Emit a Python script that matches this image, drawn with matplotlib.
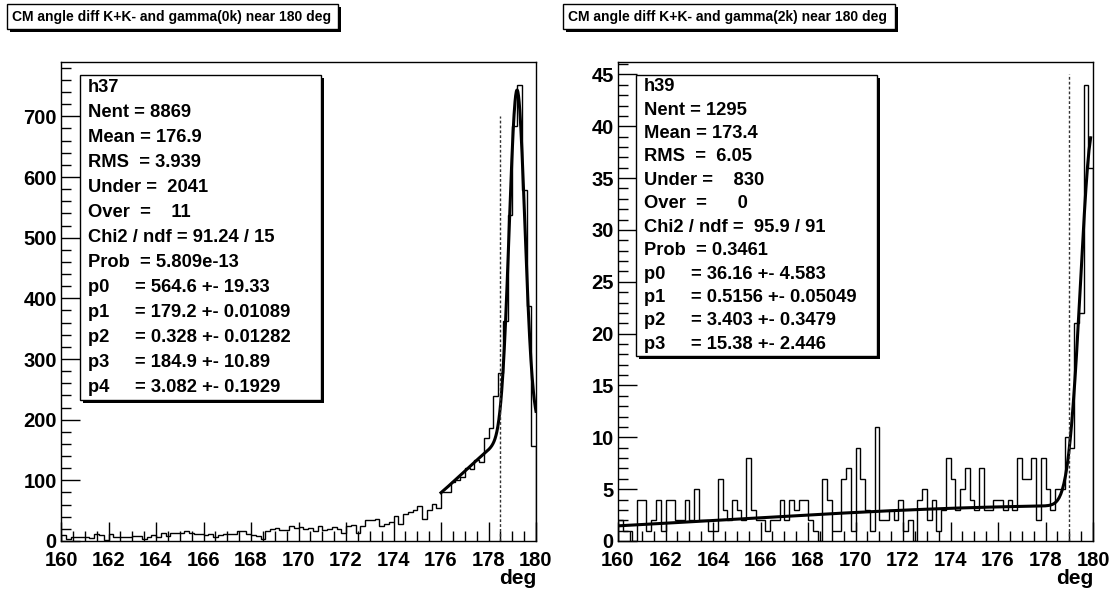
import numpy as np
import matplotlib
matplotlib.use("Agg")
import matplotlib.pyplot as plt
from matplotlib.patches import Rectangle
from matplotlib.ticker import MultipleLocator

plt.rcParams['font.family'] = ['Liberation Sans', 'DejaVu Sans']
plt.rcParams['font.weight'] = 'bold'

W, H = 1116, 592

# binning: 100 bins between 160 and 180 deg
edges = np.linspace(160, 180, 101)

# h37 : gamma(0k)
counts_0k = [10, 3, 7, 7, 6, 6, 5, 12, 10, 2,
             12, 7, 7, 6, 6, 9, 9, 3, 6, 10,
             7, 13, 9, 14, 14, 14, 16, 13, 12, 12,
             10, 12, 7, 10, 12, 12, 12, 16, 16, 12,
             10, 9, 3, 16, 19, 22, 18, 18, 24, 22,
             23, 19, 22, 17, 25, 18, 20, 23, 20, 14,
             24, 26, 14, 25, 34, 35, 36, 25, 28, 32,
             41, 28, 45, 47, 51, 58, 37, 51, 61, 54,
             81, 80, 98, 100, 105, 121, 118, 134, 131, 169,
             186, 239, 277, 362, 538, 684, 752, 579, 387, 156]

# h39 : gamma(2k)
counts_2k = [2, 1, 1, 0, 4, 4, 1, 2, 4, 1,
             4, 4, 2, 2, 4, 2, 5, 2, 2, 1,
             1, 6, 3, 2, 4, 3, 2, 8, 3, 2,
             2, 1, 2, 2, 4, 2, 4, 3, 4, 4,
             2, 1, 0, 6, 4, 1, 1, 6, 7, 1,
             9, 6, 3, 1, 11, 2, 2, 3, 2, 4,
             1, 2, 0, 4, 5, 2, 4, 1, 3, 8,
             6, 3, 5, 7, 4, 3, 7, 3, 3, 4,
             4, 3, 4, 3, 8, 6, 6, 8, 2, 8,
             5, 3, 5, 5, 10, 9, 21, 22, 44, 36]

# fit parameters shown in the stat boxes
pars_0k = [564.6, 179.2, 0.328, 184.9, 3.082]
pars_2k = [36.16, 0.5156, 3.403, 15.38]
fit_range_0k = (176.0, 180.0)
fit_range_2k = (160.1, 179.9)
cut_0k = (178.5, 700)
cut_2k = (179.0, 45)

titles = ["CM angle diff K+K- and gamma(0k) near 180 deg",
          "CM angle diff K+K- and gamma(2k) near 180 deg"]

stats_0k = ["h37", "Nent = 8869", "Mean = 176.9", "RMS  = 3.939",
            "Under =  2041", "Over  =    11", "Chi2 / ndf = 91.24 / 15",
            "Prob  = 5.809e-13", "p0     = 564.6 +- 19.33",
            "p1     = 179.2 +- 0.01089", "p2     = 0.328 +- 0.01282",
            "p3     = 184.9 +- 10.89", "p4     = 3.082 +- 0.1929"]
stats_2k = ["h39", "Nent = 1295", "Mean = 173.4", "RMS  =  6.05",
            "Under =    830", "Over  =      0", "Chi2 / ndf =  95.9 / 91",
            "Prob  = 0.3461", "p0     = 36.16 +- 4.583",
            "p1     = 0.5156 +- 0.05049", "p2     = 3.403 +- 0.3479",
            "p3     = 15.38 +- 2.446"]


def fit_0k(x, p):
    return (p[0] * np.exp(-0.5 * ((x - p[1]) / p[2]) ** 2)
            + p[3] * np.exp(-0.5 * ((x - 180.0) / p[4]) ** 2))


def fit_2k(x, p):
    return (p[0] * np.exp(-0.5 * ((x - 180.0) / p[1]) ** 2)
            + p[2] * np.exp(-0.5 * ((x - 180.0) / p[3]) ** 2))


def box(fig, x0, y0, x1, y1, shadow=3):
    # pixel coords (top-left origin) -> figure fraction
    fig.patches.append(Rectangle(((x0 + shadow) / W, 1 - (y1 + shadow) / H),
                                 (x1 - x0) / W, (y1 - y0) / H,
                                 transform=fig.transFigure, facecolor='black',
                                 edgecolor='black', lw=0, zorder=5))
    fig.patches.append(Rectangle((x0 / W, 1 - y1 / H), (x1 - x0) / W, (y1 - y0) / H,
                                 transform=fig.transFigure, facecolor='white',
                                 edgecolor='black', lw=1, zorder=6))


def stat_box(fig, lines, x0, y0, x1, y1):
    box(fig, x0, y0, x1, y1)
    step = (y1 - y0) / len(lines)
    for i, s in enumerate(lines):
        yc = y0 + (i + 0.5) * step
        fig.text((x0 + 8) / W, 1 - yc / H, s, fontsize=13.2, fontweight='bold',
                 ha='left', va='center', zorder=7)


fig = plt.figure(figsize=(W / 100, H / 100), dpi=100)

panels = [
    (61, counts_0k, fit_0k, pars_0k, fit_range_0k, cut_0k, 100, 20),
    (618, counts_2k, fit_2k, pars_2k, fit_range_2k, cut_2k, 5, 1),
]

for k, (left, counts, func, pars, frange, cut, major, minor) in enumerate(panels):
    ax = fig.add_axes([left / W, 1 - 541 / H, 475 / W, 479 / H])
    ax.stairs(counts, edges, color='black', lw=1.0)
    xf = np.linspace(frange[0], frange[1], 300)
    ax.plot(xf, func(xf, pars), color='black', lw=2.2)
    ax.plot([cut[0], cut[0]], [0, cut[1]], color='#333333', lw=1.0,
            linestyle=(0, (2.0, 1.5)))
    ax.set_xlim(160, 180)
    ax.set_ylim(0, 1.05 * max(counts))
    ax.xaxis.set_major_locator(MultipleLocator(2))
    ax.xaxis.set_minor_locator(MultipleLocator(0.5))
    ax.yaxis.set_major_locator(MultipleLocator(major))
    ax.yaxis.set_minor_locator(MultipleLocator(minor))
    ax.tick_params(which='both', direction='in', top=False, right=False,
                   labelsize=14.5, width=1)
    ax.tick_params(which='major', length=14)
    ax.tick_params(which='minor', length=7)
    ax.tick_params(axis='x', pad=7)
    ax.tick_params(axis='y', pad=3)
    for lab in ax.get_xticklabels() + ax.get_yticklabels():
        lab.set_fontweight('bold')
    for sp in ax.spines.values():
        sp.set_linewidth(1.0)
    fig.text((left + 475) / W, 1 - 579 / H, "deg", fontsize=15,
             fontweight='bold', ha='right', va='center')

# title boxes
box(fig, 7, 4, 338, 29)
fig.text(12 / W, 1 - 17 / H, titles[0], fontsize=10, fontweight='bold',
         ha='left', va='center', zorder=7)
box(fig, 563, 4, 895, 29)
fig.text(568 / W, 1 - 17 / H, titles[1], fontsize=10, fontweight='bold',
         ha='left', va='center', zorder=7)

# stat boxes
stat_box(fig, stats_0k, 80, 75, 321, 400)
stat_box(fig, stats_2k, 636, 75, 877, 356)

fig.savefig("out.png", dpi=100)
